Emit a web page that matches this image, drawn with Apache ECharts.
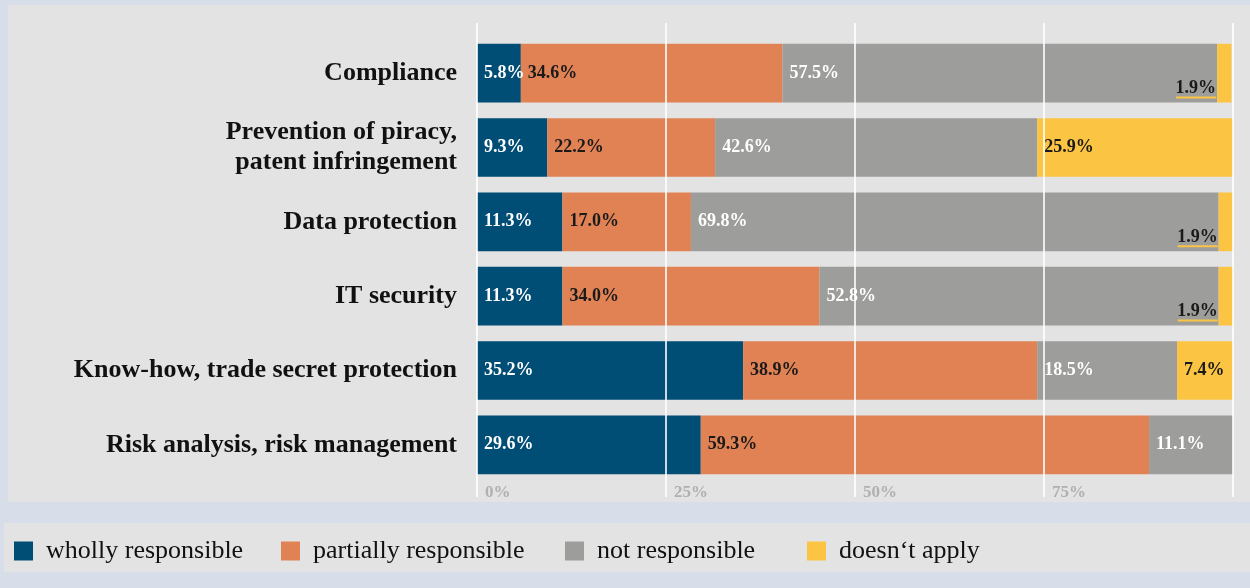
<!DOCTYPE html>
<html>
<head>
<meta charset="utf-8">
<script src="https://cdn.jsdelivr.net/npm/echarts@6/dist/echarts.min.js"></script>
<style>
  html, body { margin: 0; padding: 0; background: #d7dee9; }
  #chart { width: 1250px; height: 588px; }
</style>
</head>
<body>
<div id="chart"></div>
<script>
// Responsibility areas (top to bottom) and the share of answers per group, in percent
const categories = [
  'Compliance',
  'Prevention of piracy,\npatent infringement',
  'Data protection',
  'IT security',
  'Know-how, trade secret protection',
  'Risk analysis, risk management'
];
const seriesNames = ['wholly responsible', 'partially responsible', 'not responsible', 'doesn\u2018t apply'];
const whollyResponsible    = [5.8, 9.3, 11.3, 11.3, 35.2, 29.6];
const partiallyResponsible = [34.6, 22.2, 17.0, 34.0, 38.9, 59.3];
const notResponsible       = [57.5, 42.6, 69.8, 52.8, 18.5, 11.1];
const doesntApply          = [1.9, 25.9, 1.9, 1.9, 7.4, null];

const FONT = '"Liberation Serif", "DejaVu Serif", serif';
const COLORS = ['#004d76', '#e18255', '#9d9d9b', '#fcc443'];
const LEGEND_LEFT = [14, 281, 565, 807];

const fmt = p => p.value.toFixed(1) + '%';

function insideLabel(color) {
  return {
    show: true,
    position: 'insideLeft',
    distance: 7,
    color: color,
    fontFamily: FONT,
    fontWeight: 'bold',
    fontSize: 18,
    formatter: fmt
  };
}

// Small slices get their label just left of the segment, underlined in the segment colour
function naLabel(p) {
  const txt = fmt(p);
  return p.value < 5 ? '{t|' + txt + '}\n{u| }' : '{b|' + txt + '}';
}

const chart = echarts.init(document.getElementById('chart'), null, { renderer: 'canvas' });

const barCommon = {
  type: 'bar',
  stack: 'total',
  barCategoryGap: '21%',
  xAxisIndex: 0,
  yAxisIndex: 0
};

// one legend block per series so each entry sits at its own position
const legends = seriesNames.map((name, i) => ({
  left: LEGEND_LEFT[i],
  top: 538,
  padding: 0,
  itemWidth: 19,
  itemHeight: 19,
  icon: 'rect',
  textStyle: { fontFamily: FONT, fontSize: 26, color: '#111', padding: [0, 0, 0, 8] },
  data: [name]
}));

chart.setOption({
  backgroundColor: '#d7dee9',
  animation: false,
  graphic: [
    { type: 'rect', shape: { x: 8, y: 5, width: 1242, height: 497 }, style: { fill: '#e3e3e3' }, z: -10 },
    { type: 'rect', shape: { x: 4, y: 523, width: 1246, height: 49 }, style: { fill: '#e3e3e3' }, z: -10 }
  ],
  legend: legends,
  grid: [
    { left: 477, right: 17, top: 36, bottom: 106 },
    { left: 477, right: 17, top: 23, bottom: 91 }
  ],
  xAxis: [
    {
      type: 'value', gridIndex: 0, min: 0, max: 100, interval: 25,
      axisLine: { show: false }, axisTick: { show: false }, splitLine: { show: false },
      axisLabel: {
        show: true, margin: 2, align: 'left', padding: [0, 0, 0, 8],
        verticalAlign: 'top',
        color: '#b0b0b0', fontFamily: FONT, fontWeight: 'bold', fontSize: 17,
        formatter: v => (v === 100 ? '' : v + '%')
      }
    },
    {
      // gridlines drawn over the bars
      type: 'value', gridIndex: 1, min: 0, max: 100, interval: 25, z: 10,
      axisLine: { show: false }, axisTick: { show: false }, axisLabel: { show: false },
      splitLine: { show: true, lineStyle: { color: 'rgba(255,255,255,0.8)', width: 2 } }
    }
  ],
  yAxis: [
    {
      type: 'category', gridIndex: 0, inverse: true, data: categories,
      axisLine: { show: false }, axisTick: { show: false },
      axisLabel: {
        margin: 20, color: '#111', fontFamily: FONT, fontWeight: 'bold',
        fontSize: 26, lineHeight: 30, padding: [0, 0, 4, 0]
      }
    },
    {
      type: 'category', gridIndex: 1, data: [''], show: false
    }
  ],
  series: [
    Object.assign({}, barCommon, {
      name: seriesNames[0], data: whollyResponsible,
      itemStyle: { color: COLORS[0] }, label: insideLabel('#ffffff')
    }),
    Object.assign({}, barCommon, {
      name: seriesNames[1], data: partiallyResponsible,
      itemStyle: { color: COLORS[1] }, label: insideLabel('#1a1a1a')
    }),
    Object.assign({}, barCommon, {
      name: seriesNames[2], data: notResponsible,
      itemStyle: { color: COLORS[2] }, label: insideLabel('#ffffff')
    }),
    Object.assign({}, barCommon, {
      name: seriesNames[3],
      data: doesntApply.map(v => {
        if (v == null) return null;
        if (v < 5) {
          return {
            value: v,
            label: {
              position: [0, '100%'], align: 'right', verticalAlign: 'bottom',
              offset: [-1, -4]
            }
          };
        }
        return { value: v };
      }),
      itemStyle: { color: COLORS[3] },
      label: {
        show: true, position: 'insideLeft', distance: 7,
        formatter: naLabel,
        rich: {
          b: { color: '#1a1a1a', fontFamily: FONT, fontWeight: 'bold', fontSize: 18 },
          t: { color: '#1a1a1a', fontFamily: FONT, fontWeight: 'bold', fontSize: 18, lineHeight: 16 },
          u: { width: 40, height: 2, lineHeight: 2, fontSize: 1, backgroundColor: COLORS[3] }
        }
      }
    })
  ]
});
</script>
</body>
</html>
